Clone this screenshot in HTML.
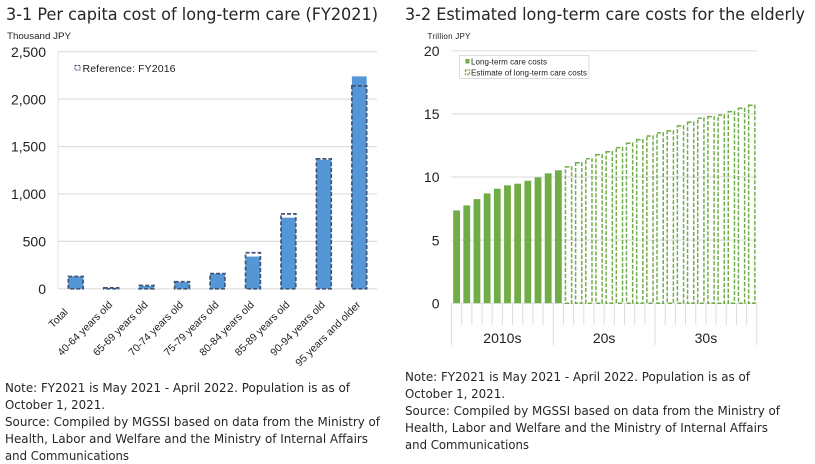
<!DOCTYPE html>
<html lang="en">
<head>
<meta charset="utf-8">
<title>Long-term care costs</title>
<style>
html,body{margin:0;padding:0;background:#fff;width:815px;height:464px;overflow:hidden}
svg{display:block}
text{font-family:"Liberation Sans",sans-serif;fill:#222}
.head,.note{font-family:"DejaVu Sans","Liberation Sans",sans-serif}
.head{font-size:17px;fill:#262626}
.note{font-size:12px;fill:#262626}
</style>
</head>
<body>
<svg id="root" xmlns="http://www.w3.org/2000/svg" width="815" height="464" viewBox="0 0 815 464">
  <rect x="0" y="0" width="815" height="464" fill="#fff"/>

  <text class="head" x="6" y="20" textLength="372" lengthAdjust="spacingAndGlyphs">3-1 Per capita cost of long-term care (FY2021)</text>
  <text x="7" y="39" font-size="9" textLength="64" lengthAdjust="spacingAndGlyphs">Thousand JPY</text>
  <g id="left-chart"></g>
  <g>
    <rect x="75" y="65.500" width="5" height="4.500" fill="none" stroke="#44546a" stroke-width="1" stroke-dasharray="2 1"/>
    <text x="82.500" y="72" font-size="10.500" textLength="93" lengthAdjust="spacing">Reference: FY2016</text>
  </g>

  <text class="head" x="405" y="20" textLength="400" lengthAdjust="spacingAndGlyphs">3-2 Estimated long-term care costs for the elderly</text>
  <text x="427.500" y="39" font-size="8" textLength="43" lengthAdjust="spacing">Trillion JPY</text>
  <g id="right-chart"></g>
  <g>
    <rect x="459.500" y="55.500" width="129.500" height="23" fill="#fff" stroke="#dcdcdc" stroke-width="1"/>
    <rect x="465.500" y="59" width="4" height="4.500" fill="#70ad47"/>
    <text x="471" y="64.500" font-size="8" textLength="76" lengthAdjust="spacing">Long-term care costs</text>
    <rect x="465.500" y="70" width="4" height="4.500" fill="none" stroke="#70ad47" stroke-width="1.200" stroke-dasharray="2 1"/>
    <text x="471" y="75.500" font-size="8" textLength="116" lengthAdjust="spacing">Estimate of long-term care costs</text>
  </g>

  <g>
    <text class="note" x="5" y="392" textLength="345" lengthAdjust="spacingAndGlyphs">Note: FY2021 is May 2021 - April 2022. Population is as of</text>
    <text class="note" x="5" y="409" textLength="100" lengthAdjust="spacingAndGlyphs">October 1, 2021.</text>
    <text class="note" x="5" y="426" textLength="375" lengthAdjust="spacingAndGlyphs">Source: Compiled by MGSSI based on data from the Ministry of</text>
    <text class="note" x="5" y="443" textLength="363" lengthAdjust="spacingAndGlyphs">Health, Labor and Welfare and the Ministry of Internal Affairs</text>
    <text class="note" x="5" y="460" textLength="124" lengthAdjust="spacingAndGlyphs">and Communications</text>
  </g>
  <g>
    <text class="note" x="405" y="381" textLength="345" lengthAdjust="spacingAndGlyphs">Note: FY2021 is May 2021 - April 2022. Population is as of</text>
    <text class="note" x="405" y="398" textLength="100" lengthAdjust="spacingAndGlyphs">October 1, 2021.</text>
    <text class="note" x="405" y="415" textLength="375" lengthAdjust="spacingAndGlyphs">Source: Compiled by MGSSI based on data from the Ministry of</text>
    <text class="note" x="405" y="432" textLength="363" lengthAdjust="spacingAndGlyphs">Health, Labor and Welfare and the Ministry of Internal Affairs</text>
    <text class="note" x="405" y="449" textLength="124" lengthAdjust="spacingAndGlyphs">and Communications</text>
  </g>
</svg>
<script>
const ageCategories = ["Total", "40-64 years old", "65-69 years old", "70-74 years old", "75-79 years old", "80-84 years old", "85-89 years old", "90-94 years old", "95 years and older"];
const fy2021Values = [130, 5, 30, 70, 160, 340, 750, 1360, 2240];
const fy2016Values = [130, 10, 35, 75, 160, 380, 790, 1370, 2140];
const leftTicks = [0, 500, 1000, 1500, 2000, 2500];
const leftTickLabels = ["0", "500", "1,000", "1,500", "2,000", "2,500"];

const actualCosts = [7.35, 7.75, 8.25, 8.7, 9.07, 9.34, 9.47, 9.7, 9.97, 10.29, 10.53];
const estimatedCosts = [10.8, 11.13, 11.45, 11.77, 12.0, 12.33, 12.67, 12.96, 13.25, 13.5, 13.65, 14.05, 14.34, 14.66, 14.78, 14.9, 15.18, 15.45, 15.69];
const rightTicks = [0, 5, 10, 15, 20];
const decadeLabels = ["2010s", "20s", "30s"];

const NS = "http://www.w3.org/2000/svg";
function make(parent, tag, attrs, content) {
  const el = document.createElementNS(NS, tag);
  for (const k in attrs) el.setAttribute(k, attrs[k]);
  if (content !== undefined) el.textContent = content;
  parent.appendChild(el);
  return el;
}
function slug(s) {
  return String(s).toLowerCase().replace(/[^a-z0-9]+/g, "-");
}

/* Left chart */
const left = document.getElementById("left-chart");
const leftX0 = 58, leftX1 = 377, leftY0 = 288.8, leftYTop = 51.7, leftMax = 2500;
const leftBand = (leftX1 - leftX0) / ageCategories.length;
function leftY(v) { return leftY0 - (v / leftMax) * (leftY0 - leftYTop); }
function leftX(i) { return leftX0 + leftBand * (i + 0.5); }

leftTicks.forEach(function (t, i) {
  const line = make(left, "line", {x1: leftX0, x2: leftX1, y1: leftY(t), y2: leftY(t), stroke: "#dedede", "stroke-width": 1.2});
  
  
  const label = make(left, "text", {x: 46, y: leftY(t) + 5.2, "font-size": 14, "text-anchor": "end"}, leftTickLabels[i]);
  
  
});
const leftAxis = make(left, "line", {x1: leftX0, x2: leftX0, y1: leftYTop, y2: leftY0, stroke: "#e4e4e4", "stroke-width": 1});



ageCategories.forEach(function (c, i) {
  const cx = leftX(i);
  const bar = make(left, "rect", {x: cx - 7.4, y: leftY(fy2021Values[i]), width: 14.8, height: leftY0 - leftY(fy2021Values[i]), fill: "#5596d6"});
  
  
  const ref = make(left, "rect", {x: cx - 7.4, y: leftY(fy2016Values[i]), width: 14.8, height: leftY0 - leftY(fy2016Values[i]), fill: "none", stroke: "#3f5573", "stroke-width": 1.7, "stroke-dasharray": "4 2"});
  
  
  const shiftX = c.length < 8 ? -11 : -2;
  const shiftY = c.length < 8 ? 11 : 3.5;
  const tx = cx + 1 + shiftX, ty = 299 + shiftY;
  const label = make(left, "text", {x: tx, y: ty + 4, "font-size": 10.5, fill: "#333", "text-anchor": "end", transform: "rotate(-45 " + tx + " " + ty + ")"}, c);
  
  
});

/* Right chart */
const right = document.getElementById("right-chart");
const rightX0 = 451.5, rightX1 = 756.8, rightY0 = 303.2, rightYTop = 50.8, rightMax = 20;
const allCosts = actualCosts.concat(estimatedCosts);
const rightBand = (rightX1 - rightX0) / allCosts.length;
function rightY(v) { return rightY0 - (v / rightMax) * (rightY0 - rightYTop); }
function rightX(i) { return rightX0 + rightBand * (i + 0.5); }

rightTicks.forEach(function (t) {
  const line = make(right, "line", {x1: rightX0, x2: 757, y1: rightY(t), y2: rightY(t), stroke: "#e0e0e0", "stroke-width": 1.2});
  
  
  const label = make(right, "text", {x: 439.5, y: rightY(t) + 5.2, "font-size": 14, "text-anchor": "end"}, String(t));
  
  
});
for (let i = 0; i <= allCosts.length; i++) {
  const x = rightX0 + rightBand * i;
  const major = i % 10 === 0;
  const tick = make(right, "line", {x1: x, x2: x, y1: rightY0, y2: major ? 345 : 325, stroke: "#dddddd", "stroke-width": 1});
  
  
}
decadeLabels.forEach(function (d, i) {
  const label = make(right, "text", {x: rightX0 + rightBand * (i * 10 + 5), y: 343, "font-size": 14, "text-anchor": "middle"}, d);
  
  
});
actualCosts.forEach(function (v, i) {
  const cx = rightX(i);
  const bar = make(right, "rect", {x: cx - 3.4, y: rightY(v), width: 6.8, height: rightY0 - rightY(v), fill: "#70ad47"});
  
  
});
estimatedCosts.forEach(function (v, i) {
  const cx = rightX(i + actualCosts.length);
  const bar = make(right, "rect", {x: cx - 3.1, y: rightY(v), width: 6.2, height: rightY0 - rightY(v), fill: "none", stroke: "#70ad47", "stroke-width": 1.5, "stroke-dasharray": "4 1.8"});
  
  
});
</script>
</body>
</html>
